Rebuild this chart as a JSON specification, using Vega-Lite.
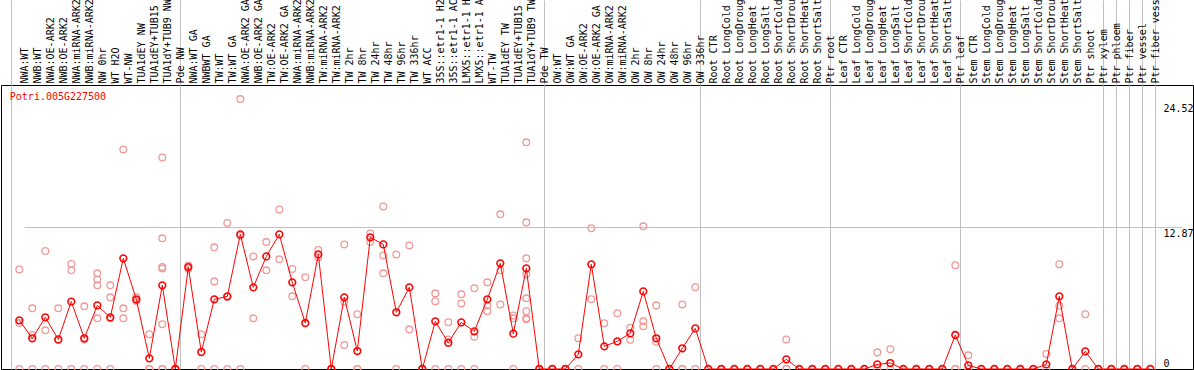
{
  "$schema": "https://vega.github.io/schema/vega-lite/v6.json",
  "width": 1192,
  "height": 284,
  "autosize": {"type": "none"},
  "padding": {"left": 1, "top": 85, "right": 1, "bottom": 1},
  "background": "white",
  "config": {"view": {"stroke": "#000", "strokeWidth": 1}, "font": "DejaVu Sans Mono"},
  "datasets": {
    "means": [
      {"c": "NWA:WT", "m": 4.42}, {"c": "NWB:WT", "m": 2.79}, {"c": "NWA:OE-ARK2", "m": 4.69}, {"c": "NWB:OE-ARK2", "m": 2.69},
      {"c": "NWA:miRNA-ARK2", "m": 6.12}, {"c": "NWB:miRNA-ARK2", "m": 2.79}, {"c": "NW 0hr", "m": 5.78}, {"c": "WT H2O", "m": 4.69},
      {"c": "WT-NW", "m": 10.05}, {"c": "TUA1dEY NW", "m": 6.33}, {"c": "TUA1dEY+TUB15", "m": 0.97}, {"c": "TUA1dY+TUB9 NW", "m": 7.6},
      {"c": "Pde NW", "m": 0},
      {"c": "NWA:WT GA", "m": 9.26}, {"c": "NWBWT GA", "m": 1.54}, {"c": "TW:WT", "m": 6.33}, {"c": "TW:WT GA", "m": 6.6},
      {"c": "NWA:OE-ARK2 GA", "m": 12.23}, {"c": "NWB:OE-ARK2 GA", "m": 7.42}, {"c": "TW:OE-ARK2", "m": 10.23}, {"c": "TW:OE-ARK2 GA", "m": 12.23},
      {"c": "NWA:miRNA-ARK2 ", "m": 7.87}, {"c": "NWB:miRNA-ARK2 ", "m": 4.18}, {"c": "TW:miRNA-ARK2", "m": 10.41}, {"c": "TW:miRNA-ARK2 ", "m": 0},
      {"c": "TW 2hr", "m": 6.51}, {"c": "TW 8hr", "m": 1.63}, {"c": "TW 24hr", "m": 11.96}, {"c": "TW 48hr", "m": 11.32},
      {"c": "TW 96hr", "m": 5.15}, {"c": "TW 336hr", "m": 7.42}, {"c": "WT ACC", "m": 0}, {"c": "35S::etr1-1 H2", "m": 4.33},
      {"c": "35S::etr1-1 AC", "m": 2.39}, {"c": "LMX5::etr1-1 H", "m": 4.24}, {"c": "LMX5::etr1-1 A", "m": 3.42}, {"c": "WT-TW", "m": 6.33},
      {"c": "TUA1dEY TW", "m": 9.6}, {"c": "TUA1dEY+TUB15 ", "m": 3.21}, {"c": "TUA1dY+TUB9 TW", "m": 9.14}, {"c": "Pde TW", "m": 0},
      {"c": "OW:WT", "m": 0}, {"c": "OW:WT GA", "m": 0}, {"c": "OW:OE-ARK2", "m": 1.33}, {"c": "OW:OE-ARK2 GA", "m": 9.51},
      {"c": "OW:miRNA-ARK2", "m": 2.06}, {"c": "OW:miRNA-ARK2 ", "m": 2.51}, {"c": "OW 2hr", "m": 3.24}, {"c": "OW 8hr", "m": 7.05},
      {"c": "OW 24hr", "m": 2.79}, {"c": "OW 48hr", "m": 0}, {"c": "OW 96hr", "m": 1.88}, {"c": "OW 336hr", "m": 3.69},
      {"c": "Root CTR", "m": 0}, {"c": "Root LongCold", "m": 0}, {"c": "Root LongDroug", "m": 0}, {"c": "Root LongHeat", "m": 0},
      {"c": "Root LongSalt", "m": 0}, {"c": "Root ShortCold", "m": 0}, {"c": "Root ShortDrou", "m": 0.88}, {"c": "Root ShortHeat", "m": 0},
      {"c": "Root ShortSalt", "m": 0}, {"c": "Ptr root", "m": 0},
      {"c": "Leaf CTR", "m": 0}, {"c": "Leaf LongCold", "m": 0}, {"c": "Leaf LongDroug", "m": 0}, {"c": "Leaf LongHeat", "m": 0.42},
      {"c": "Leaf LongSalt", "m": 0.54}, {"c": "Leaf ShortCold", "m": 0}, {"c": "Leaf ShortDrou", "m": 0}, {"c": "Leaf ShortHeat", "m": 0},
      {"c": "Leaf ShortSalt", "m": 0}, {"c": "Ptr leaf", "m": 3.09},
      {"c": "Stem CTR", "m": 0.33}, {"c": "Stem LongCold", "m": 0}, {"c": "Stem LongDroug", "m": 0}, {"c": "Stem LongHeat", "m": 0},
      {"c": "Stem LongSalt", "m": 0}, {"c": "Stem ShortCold", "m": 0}, {"c": "Stem ShortDrou", "m": 0.42}, {"c": "Stem ShortHeat", "m": 6.6},
      {"c": "Stem ShortSalt", "m": 0}, {"c": "Ptr shoot", "m": 1.6}, {"c": "Ptr xylem", "m": 0}, {"c": "Ptr phloem", "m": 0},
      {"c": "Ptr fiber", "m": 0}, {"c": "Ptr vessel", "m": 0}, {"c": "Ptr fiber vess", "m": 0}
    ],
    "reps": [
      {"c": "NWA:WT", "m": 9.05}, {"c": "NWA:WT", "m": 4.18}, {"c": "NWA:WT", "m": 0},
      {"c": "NWB:WT", "m": 5.51}, {"c": "NWB:WT", "m": 3.09}, {"c": "NWB:WT", "m": 0},
      {"c": "NWA:OE-ARK2", "m": 10.72}, {"c": "NWA:OE-ARK2", "m": 3.51}, {"c": "NWA:OE-ARK2", "m": 0},
      {"c": "NWB:OE-ARK2", "m": 5.51}, {"c": "NWB:OE-ARK2", "m": 2.63}, {"c": "NWB:OE-ARK2", "m": 0},
      {"c": "NWA:miRNA-ARK2", "m": 9.54}, {"c": "NWA:miRNA-ARK2", "m": 8.96}, {"c": "NWA:miRNA-ARK2", "m": 0},
      {"c": "NWB:miRNA-ARK2", "m": 5.69}, {"c": "NWB:miRNA-ARK2", "m": 2.69}, {"c": "NWB:miRNA-ARK2", "m": 0},
      {"c": "NW 0hr", "m": 8.69}, {"c": "NW 0hr", "m": 8.14}, {"c": "NW 0hr", "m": 7.6}, {"c": "NW 0hr", "m": 4.6}, {"c": "NW 0hr", "m": 0},
      {"c": "WT H2O", "m": 7.6}, {"c": "WT H2O", "m": 6.51}, {"c": "WT H2O", "m": 4.6}, {"c": "WT H2O", "m": 0},
      {"c": "WT-NW", "m": 19.95}, {"c": "WT-NW", "m": 5.51}, {"c": "WT-NW", "m": 4.6},
      {"c": "TUA1dEY NW", "m": 6.54}, {"c": "TUA1dEY NW", "m": 6.27}, {"c": "TUA1dEY NW", "m": 6.18},
      {"c": "TUA1dEY+TUB15", "m": 3.15}, {"c": "TUA1dEY+TUB15", "m": 0}, {"c": "TUA1dEY+TUB15", "m": 0},
      {"c": "TUA1dY+TUB9 NW", "m": 19.22}, {"c": "TUA1dY+TUB9 NW", "m": 11.87}, {"c": "TUA1dY+TUB9 NW", "m": 9.26}, {"c": "TUA1dY+TUB9 NW", "m": 9.14}, {"c": "TUA1dY+TUB9 NW", "m": 4.06}, {"c": "TUA1dY+TUB9 NW", "m": 0}, {"c": "TUA1dY+TUB9 NW", "m": 0},
      {"c": "Pde NW", "m": 0},
      {"c": "NWA:WT GA", "m": 9.4}, {"c": "NWA:WT GA", "m": 9.1},
      {"c": "NWBWT GA", "m": 3.15}, {"c": "NWBWT GA", "m": 0},
      {"c": "TW:WT", "m": 11.05}, {"c": "TW:WT", "m": 7.96}, {"c": "TW:WT", "m": 0},
      {"c": "TW:WT GA", "m": 13.26}, {"c": "TW:WT GA", "m": 6.54}, {"c": "TW:WT GA", "m": 0},
      {"c": "NWA:OE-ARK2 GA", "m": 24.52}, {"c": "NWA:OE-ARK2 GA", "m": 12.1}, {"c": "NWA:OE-ARK2 GA", "m": 0},
      {"c": "NWB:OE-ARK2 GA", "m": 10.23}, {"c": "NWB:OE-ARK2 GA", "m": 4.6},
      {"c": "TW:OE-ARK2", "m": 11.53}, {"c": "TW:OE-ARK2", "m": 8.96},
      {"c": "TW:OE-ARK2 GA", "m": 14.5}, {"c": "TW:OE-ARK2 GA", "m": 9.96},
      {"c": "NWA:miRNA-ARK2 ", "m": 9.08}, {"c": "NWA:miRNA-ARK2 ", "m": 6.6},
      {"c": "NWB:miRNA-ARK2 ", "m": 8.33}, {"c": "NWB:miRNA-ARK2 ", "m": 0},
      {"c": "TW:miRNA-ARK2", "m": 10.81}, {"c": "TW:miRNA-ARK2", "m": 10.14},
      {"c": "TW:miRNA-ARK2 ", "m": 0},
      {"c": "TW 2hr", "m": 11.32}, {"c": "TW 2hr", "m": 6.12}, {"c": "TW 2hr", "m": 2.18},
      {"c": "TW 8hr", "m": 4.97}, {"c": "TW 8hr", "m": 0}, {"c": "TW 8hr", "m": 0},
      {"c": "TW 24hr", "m": 12.32}, {"c": "TW 24hr", "m": 11.53},
      {"c": "TW 48hr", "m": 14.77}, {"c": "TW 48hr", "m": 10.32}, {"c": "TW 48hr", "m": 8.69},
      {"c": "TW 96hr", "m": 10.41}, {"c": "TW 96hr", "m": 0},
      {"c": "TW 336hr", "m": 11.23}, {"c": "TW 336hr", "m": 3.6},
      {"c": "WT ACC", "m": 0},
      {"c": "35S::etr1-1 H2", "m": 6.87}, {"c": "35S::etr1-1 H2", "m": 6.15}, {"c": "35S::etr1-1 H2", "m": 0},
      {"c": "35S::etr1-1 AC", "m": 4.24}, {"c": "35S::etr1-1 AC", "m": 2.69}, {"c": "35S::etr1-1 AC", "m": 0},
      {"c": "LMX5::etr1-1 H", "m": 6.78}, {"c": "LMX5::etr1-1 H", "m": 5.96}, {"c": "LMX5::etr1-1 H", "m": 0},
      {"c": "LMX5::etr1-1 A", "m": 7.33}, {"c": "LMX5::etr1-1 A", "m": 2.94}, {"c": "LMX5::etr1-1 A", "m": 0},
      {"c": "WT-TW", "m": 7.87}, {"c": "WT-TW", "m": 5.78}, {"c": "WT-TW", "m": 5.24},
      {"c": "TUA1dEY TW", "m": 14.05}, {"c": "TUA1dEY TW", "m": 8.96}, {"c": "TUA1dEY TW", "m": 5.87},
      {"c": "TUA1dEY+TUB15 ", "m": 4.87}, {"c": "TUA1dEY+TUB15 ", "m": 4.6}, {"c": "TUA1dEY+TUB15 ", "m": 0},
      {"c": "TUA1dY+TUB9 TW", "m": 20.59}, {"c": "TUA1dY+TUB9 TW", "m": 13.32}, {"c": "TUA1dY+TUB9 TW", "m": 10.05}, {"c": "TUA1dY+TUB9 TW", "m": 8.6}, {"c": "TUA1dY+TUB9 TW", "m": 6.42}, {"c": "TUA1dY+TUB9 TW", "m": 5.24}, {"c": "TUA1dY+TUB9 TW", "m": 4.6}, {"c": "TUA1dY+TUB9 TW", "m": 4.51},
      {"c": "Pde TW", "m": 0}, {"c": "OW:WT", "m": 0}, {"c": "OW:WT GA", "m": 0},
      {"c": "OW:OE-ARK2", "m": 2.79}, {"c": "OW:OE-ARK2", "m": 0},
      {"c": "OW:OE-ARK2 GA", "m": 12.78}, {"c": "OW:OE-ARK2 GA", "m": 6.33},
      {"c": "OW:miRNA-ARK2", "m": 4.15}, {"c": "OW:miRNA-ARK2", "m": 0},
      {"c": "OW:miRNA-ARK2 ", "m": 5.06}, {"c": "OW:miRNA-ARK2 ", "m": 0},
      {"c": "OW 2hr", "m": 3.75}, {"c": "OW 2hr", "m": 2.66},
      {"c": "OW 8hr", "m": 12.96}, {"c": "OW 8hr", "m": 4.33}, {"c": "OW 8hr", "m": 3.88},
      {"c": "OW 24hr", "m": 5.78}, {"c": "OW 24hr", "m": 2.48}, {"c": "OW 24hr", "m": 0},
      {"c": "OW 48hr", "m": 0},
      {"c": "OW 96hr", "m": 5.87}, {"c": "OW 96hr", "m": 0}, {"c": "OW 96hr", "m": 0},
      {"c": "OW 336hr", "m": 7.42}, {"c": "OW 336hr", "m": 0},
      {"c": "Root ShortDrou", "m": 2.69}, {"c": "Root ShortDrou", "m": 0}, {"c": "Root ShortDrou", "m": 0},
      {"c": "Leaf LongHeat", "m": 1.51}, {"c": "Leaf LongHeat", "m": 0},
      {"c": "Leaf LongSalt", "m": 1.79}, {"c": "Leaf LongSalt", "m": 0},
      {"c": "Ptr leaf", "m": 9.42}, {"c": "Ptr leaf", "m": 0}, {"c": "Ptr leaf", "m": 0},
      {"c": "Stem CTR", "m": 1.24}, {"c": "Stem CTR", "m": 0},
      {"c": "Stem ShortDrou", "m": 1.36}, {"c": "Stem ShortDrou", "m": 0},
      {"c": "Stem ShortHeat", "m": 9.51}, {"c": "Stem ShortHeat", "m": 5.75}, {"c": "Stem ShortHeat", "m": 4.6},
      {"c": "Ptr shoot", "m": 4.97}, {"c": "Ptr shoot", "m": 0}
    ]
  },
  "layer": [
    {
      "data": {"name": "reps"},
      "mark": {"type": "point", "shape": "circle", "filled": false, "size": 45, "strokeWidth": 1.3, "color": "#f09a9a", "opacity": 1},
      "encoding": {
        "x": {
          "field": "c", "type": "nominal",
          "scale": {
            "type": "band", "paddingInner": 0, "paddingOuter": 0, "range": [11.8, 1168.8],
            "domain": ["NWA:WT","NWB:WT","NWA:OE-ARK2","NWB:OE-ARK2","NWA:miRNA-ARK2","NWB:miRNA-ARK2","NW 0hr","WT H2O","WT-NW","TUA1dEY NW","TUA1dEY+TUB15","TUA1dY+TUB9 NW","Pde NW",
              "NWA:WT GA","NWBWT GA","TW:WT","TW:WT GA","NWA:OE-ARK2 GA","NWB:OE-ARK2 GA","TW:OE-ARK2","TW:OE-ARK2 GA","NWA:miRNA-ARK2 ","NWB:miRNA-ARK2 ","TW:miRNA-ARK2","TW:miRNA-ARK2 ","TW 2hr","TW 8hr","TW 24hr","TW 48hr","TW 96hr","TW 336hr","WT ACC","35S::etr1-1 H2","35S::etr1-1 AC","LMX5::etr1-1 H","LMX5::etr1-1 A","WT-TW","TUA1dEY TW","TUA1dEY+TUB15 ","TUA1dY+TUB9 TW","Pde TW",
              "OW:WT","OW:WT GA","OW:OE-ARK2","OW:OE-ARK2 GA","OW:miRNA-ARK2","OW:miRNA-ARK2 ","OW 2hr","OW 8hr","OW 24hr","OW 48hr","OW 96hr","OW 336hr",
              "Root CTR","Root LongCold","Root LongDroug","Root LongHeat","Root LongSalt","Root ShortCold","Root ShortDrou","Root ShortHeat","Root ShortSalt","Ptr root",
              "Leaf CTR","Leaf LongCold","Leaf LongDroug","Leaf LongHeat","Leaf LongSalt","Leaf ShortCold","Leaf ShortDrou","Leaf ShortHeat","Leaf ShortSalt","Ptr leaf",
              "Stem CTR","Stem LongCold","Stem LongDroug","Stem LongHeat","Stem LongSalt","Stem ShortCold","Stem ShortDrou","Stem ShortHeat","Stem ShortSalt","Ptr shoot","Ptr xylem","Ptr phloem","Ptr fiber","Ptr vessel","Ptr fiber vess",""]
          },
          "axis": {
            "orient": "top", "title": null, "bandPosition": 0, "tickOffset": -2, "labelOffset": 7.5,
            "labelAngle": 270, "labelAlign": "left", "labelBaseline": "middle", "labelPadding": -83,
            "labelFont": "DejaVu Sans Mono", "labelFontSize": 10, "labelColor": "#000", "labelLimit": 0,
            "labelOverlap": false, "labelBound": false, "labelFlush": false,
            "domain": false, "ticks": true, "tickSize": 85, "tickColor": "#c0c0c0", "tickWidth": 1,
            "tickOpacity": {"condition": {"test": "indexof(['NWA:WT','NWA:WT GA','OW:WT','Root CTR','Leaf CTR','Stem CTR','Ptr phloem','Ptr fiber','Ptr vessel','Ptr fiber vess',''], datum.value) >= 0", "value": 1}, "value": 0},
            "grid": true, "gridColor": "#c0c0c0", "gridWidth": 1,
            "gridOpacity": {"condition": {"test": "indexof(['NWA:WT','NWA:WT GA','OW:WT','Root CTR','Leaf CTR','Stem CTR','Ptr phloem','Ptr fiber','Ptr vessel','Ptr fiber vess',''], datum.value) >= 0", "value": 1}, "value": 0}
          }
        },
        "y": {
          "field": "m", "type": "quantitative",
          "scale": {"domain": [0, 25.8], "nice": false, "zero": true},
          "axis": {
            "orient": "right", "title": null, "values": [0, 12.87, 24.52], "format": ".4~g",
            "domain": false, "ticks": false, "tickSize": 0, "labelAlign": "left", "labelPadding": -30,
            "labelFont": "DejaVu Sans Mono", "labelFontSize": 10, "labelColor": "#000",
            "labelFlush": false, "labelOverlap": false, "labelBound": false,
            "labelBaseline": {"condition": {"test": "datum.value === 0", "value": "bottom"}, "value": "top"},
            "labelOffset": {"condition": [{"test": "datum.value === 0", "value": -1}, {"test": "datum.value === 24.52", "value": 4}], "value": 1},
            "grid": true, "gridColor": "#c0c0c0", "gridWidth": 1,
            "gridOpacity": {"condition": {"test": "datum.value === 12.87", "value": 1}, "value": 0}
          }
        }
      }
    },
    {
      "data": {"name": "means"},
      "mark": {"type": "line", "color": "#ff0000", "strokeWidth": 1},
      "encoding": {
        "x": {"field": "c", "type": "nominal"},
        "y": {"field": "m", "type": "quantitative"}
      }
    },
    {
      "data": {"name": "means"},
      "mark": {"type": "point", "shape": "circle", "filled": false, "size": 45, "strokeWidth": 1.6, "color": "#ff0000", "opacity": 1},
      "encoding": {
        "x": {"field": "c", "type": "nominal"},
        "y": {"field": "m", "type": "quantitative"}
      }
    },
    {
      "data": {"values": [{}]},
      "mark": {"type": "text", "align": "left", "baseline": "top", "dx": -3, "dy": 7, "color": "#ff0000", "font": "DejaVu Sans Mono", "fontSize": 10},
      "encoding": {
        "x": {"datum": "NWA:WT", "type": "nominal", "bandPosition": 0},
        "y": {"datum": 25.8, "type": "quantitative"},
        "text": {"value": "Potri.005G227500"}
      }
    }
  ]
}
